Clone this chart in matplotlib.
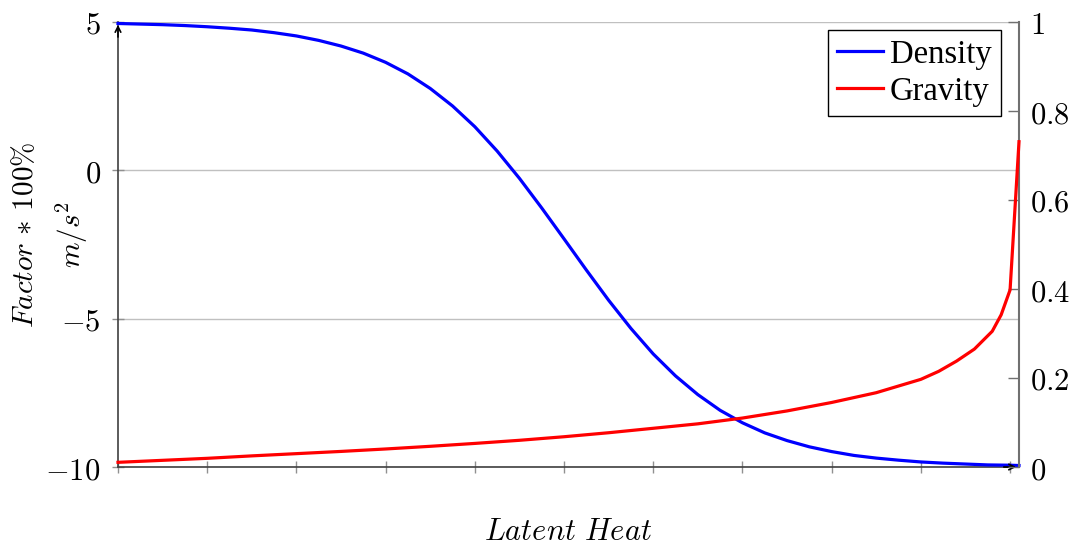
import matplotlib
matplotlib.use("Agg")
import matplotlib.pyplot as plt

plt.rcParams['mathtext.fontset'] = 'cm'
plt.rcParams['font.family'] = ['DejaVu Serif']

# Density (left axis)
density_x = [0, 0.25, 0.5, 0.75, 1, 1.25, 1.5, 1.75, 2, 2.25, 2.5, 2.75, 3, 3.25, 3.5, 3.75,
             4, 4.25, 4.5, 4.75, 5, 5.25, 5.5, 5.75, 6, 6.25, 6.5, 6.75, 7, 7.25, 7.5, 7.75,
             8, 8.25, 8.5, 8.75, 9, 9.25, 9.5, 9.75, 10, 10.1]
density_y = [4.95, 4.93, 4.91, 4.88, 4.84, 4.79, 4.73, 4.64, 4.53, 4.38, 4.19, 3.95, 3.64, 3.25,
             2.76, 2.17, 1.47, 0.65, -0.27, -1.27, -2.31, -3.36, -4.38, -5.33, -6.19, -6.93,
             -7.56, -8.09, -8.51, -8.85, -9.11, -9.32, -9.48, -9.61, -9.70, -9.77, -9.83, -9.87,
             -9.90, -9.93, -9.94, -9.95]

# Gravity (right axis)
gravity_x = [0, 0.5, 1, 1.5, 2, 2.5, 3, 3.5, 4, 4.5, 5, 5.5, 6, 6.5, 7, 7.5, 8, 8.5, 9,
             9.2, 9.4, 9.6, 9.8, 9.9, 10.0, 10.1]
gravity_y = [0.0105, 0.015, 0.0195, 0.025, 0.030, 0.035, 0.0405, 0.0465, 0.053, 0.060, 0.068,
             0.077, 0.087, 0.097, 0.110, 0.126, 0.145, 0.167, 0.197, 0.215, 0.238, 0.265,
             0.305, 0.342, 0.398, 0.731]

left_ticks = [-10, -5, 0, 5]
left_labels = [r'$-10$', r'$-5$', r'$0$', r'$5$']
right_ticks = [0, 0.2, 0.4, 0.6, 0.8, 1.0]
right_labels = [r'$0$', r'$0.2$', r'$0.4$', r'$0.6$', r'$0.8$', r'$1$']
x_ticks = [0, 1, 2, 3, 4, 5, 6, 7, 8, 9, 10]

W, H = 1075, 546
fig = plt.figure(figsize=(W / 100, H / 100), dpi=100)
L, R, T, B = 118, 1019, 22, 467
ax = fig.add_axes([L / W, 1 - B / H, (R - L) / W, (B - T) / H])
ax2 = ax.twinx()

ax.set_xlim(0, 10.1)
ax.set_ylim(-10, 5)
ax2.set_ylim(0, 1)

ax.set_yticks(left_ticks)
ax.set_yticklabels(left_labels, fontsize=22)
ax2.set_yticks(right_ticks)
ax2.set_yticklabels(right_labels, fontsize=22)
ax.set_xticks(x_ticks)
ax.set_xticklabels([])

ax.grid(axis='y', color='#c0c0c0', lw=1)
ax.set_axisbelow(True)

for a in (ax, ax2):
    a.spines['top'].set_visible(False)
ax.spines['right'].set_visible(False)
ax2.spines['left'].set_visible(False)
ax2.spines['bottom'].set_visible(False)
ax.spines['left'].set_color('#404040')
ax.spines['bottom'].set_color('#404040')
ax2.spines['right'].set_color('#707070')
for s in ('left', 'bottom'):
    ax.spines[s].set_linewidth(1.2)
ax2.spines['right'].set_linewidth(1.5)

ax.tick_params(axis='x', direction='inout', length=9, color='#909090', width=1)
ax.tick_params(axis='y', direction='inout', length=9, color='#909090', width=1, pad=8)
ax2.tick_params(axis='y', direction='in', length=8, color='#707070', width=1, pad=8)

l1, = ax.plot(density_x, density_y, color=(0, 0, 1), lw=2.3, label='Density',
              clip_on=False, zorder=3, solid_joinstyle='round')
l2, = ax2.plot(gravity_x, gravity_y, color=(1, 0, 0), lw=2.3, label='Gravity',
               clip_on=False, zorder=3, solid_joinstyle='round')

# axis arrows
ax.annotate('', xy=(0, 1), xycoords='axes fraction', xytext=(0, 0.96),
            arrowprops=dict(arrowstyle='->', color='black', lw=1.2, mutation_scale=10), annotation_clip=False)
ax.annotate('', xy=(1, 0), xycoords='axes fraction', xytext=(0.98, 0),
            arrowprops=dict(arrowstyle='->', color='black', lw=1.2, mutation_scale=10), annotation_clip=False)

leg = ax2.legend(handles=[l1, l2], loc='upper right',
                 bbox_to_anchor=(1001 / W, 1 - 30 / H), bbox_transform=fig.transFigure,
                 borderaxespad=0, fancybox=False, framealpha=1, edgecolor='black',
                 prop={'family': 'Liberation Serif', 'size': 23.5},
                 handlelength=1.4, handletextpad=0.22, labelspacing=0.2, borderpad=0.28)
leg.get_frame().set_linewidth(1.0)

fig.text(25 / W, 1 - 235 / H, r'$Factor\,*\,100\%$', rotation=90, ha='center', va='center', fontsize=21)
fig.text(72 / W, 1 - 235 / H, r'$m/s^2$', rotation=90, ha='center', va='center', fontsize=21)
fig.text(568.5 / W, 1 - 532 / H, r'$Latent\ Heat$', ha='center', va='center', fontsize=22)

fig.savefig('out.png', dpi=100)
